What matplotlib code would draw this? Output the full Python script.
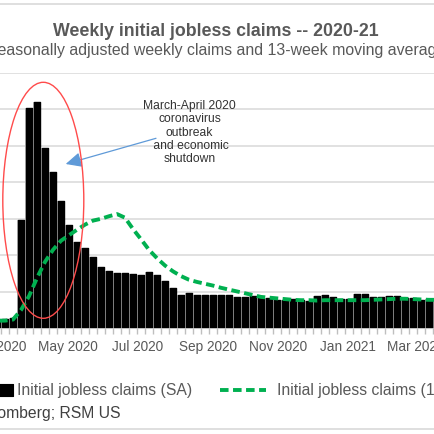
import numpy as np
import pandas as pd
import matplotlib
matplotlib.use('Agg')
import matplotlib.pyplot as plt
import matplotlib.dates as mdates
from matplotlib.patches import Ellipse, Rectangle
from matplotlib.lines import Line2D
from matplotlib.ticker import FixedLocator

plt.rcParams['font.family'] = ['Liberation Sans', 'DejaVu Sans']

# weekly initial jobless claims, millions (week ending Saturday)
weeks = pd.date_range('2020-02-29', '2021-03-20', freq='7D')
claims = [0.22, 0.25, 0.29, 2.97, 6.04, 6.21, 4.93, 4.27, 3.50, 2.83,
          2.36, 2.19, 1.95, 1.67, 1.58, 1.52, 1.52, 1.50, 1.45, 1.54,
          1.45, 1.30, 1.10, 0.92, 0.96, 0.92, 0.92, 0.92, 0.91, 0.90,
          0.87, 0.85, 0.89, 0.83, 0.82, 0.78, 0.78, 0.80, 0.78, 0.76,
          0.89, 0.91, 0.85, 0.80, 0.80, 0.94, 0.94, 0.87, 0.87, 0.89,
          0.89, 0.82, 0.82, 0.78, 0.80, 0.78]
# 13-week moving average, millions
claims_ma = [0.21, 0.21, 0.24, 0.50, 0.88, 1.38, 1.82, 2.15, 2.40, 2.55,
             2.70, 2.84, 2.95, 3.00, 3.07, 3.13, 3.03, 2.72, 2.44, 2.15,
             1.92, 1.72, 1.56, 1.43, 1.33, 1.27, 1.22, 1.17, 1.11, 1.06,
             1.01, 0.96, 0.91, 0.86, 0.84, 0.82, 0.80, 0.78, 0.77, 0.77,
             0.76, 0.77, 0.77, 0.77, 0.77, 0.77, 0.77, 0.78, 0.79, 0.80,
             0.81, 0.81, 0.80, 0.79, 0.78, 0.78]

title = 'Weekly initial jobless claims -- 2020-21'
subtitle = 'Seasonally adjusted weekly claims and 13-week moving average'
note = 'March-April 2020\ncoronavirus\noutbreak\n and economic\nshutdown'
legend_labels = ['Initial jobless claims (SA)',
                 'Initial jobless claims (13-week moving average)']
source = 'Source: Bloomberg; RSM US'

W = 435.0
GREEN = '#00b050'
GREY_TXT = '#595959'
DASH = (2.2, 1.15)


def fx(px):
    return px / W


def fy(py):
    return 1 - py / W


fig = plt.figure(figsize=(4.35, 4.35), dpi=100)

# plot area runs off the left edge, like the cropped original
ax = fig.add_axes([fx(-60), fy(329.3), 495 / W, 255.5 / W])

x = mdates.date2num(weeks)
d0 = mdates.date2num(pd.Timestamp('2020-03-07'))
ax.set_xlim(d0 - 65 * 7 / 8, d0 + 430 * 7 / 8)
ax.set_ylim(0, 7)

ax.bar(x, claims, width=7, color='#c2c2c2', lw=0, zorder=2)
ax.bar(x, claims, width=4.6, color='black', edgecolor='black', lw=1.0,
       joinstyle='round', zorder=3)
ax.plot(x, claims_ma, color=GREEN, lw=2.8, dashes=DASH,
        dash_capstyle='butt', zorder=4)

ax.set_yticks(np.arange(0, 8))
ax.yaxis.grid(True, color='#d9d9d9', lw=1.1)
ax.set_axisbelow(True)
ax.tick_params(axis='y', length=0, labelleft=False)
for s in ['left', 'right', 'top']:
    ax.spines[s].set_visible(False)
ax.spines['bottom'].set_color('#bfbfbf')

ax.xaxis.set_major_locator(mdates.MonthLocator(bymonth=[1, 3, 5, 7, 9, 11]))
ax.xaxis.set_major_formatter(mdates.DateFormatter('%b %Y'))
ax.xaxis.set_minor_locator(FixedLocator(x + 3.5))
ax.tick_params(axis='x', which='major', length=0, pad=7.5, labelsize=9.8,
               labelcolor=GREY_TXT)
ax.tick_params(axis='x', which='minor', length=4, width=1, color='#bfbfbf')

# headings
fig.text(fx(216), fy(31), title, ha='center', va='center', fontsize=12.8,
         fontweight='bold', color=GREY_TXT)
fig.text(fx(216), fy(50), subtitle, ha='center', va='center', fontsize=11.4,
         color=GREY_TXT)

# separator lines
for yy in [5, 430]:
    fig.add_artist(Line2D([0, 1], [fy(yy), fy(yy)], color='#d9d9d9', lw=1.2))

# annotation: ellipse, arrow and note
fig.add_artist(Ellipse((fx(43.3), fy(201.3)), 81 / W, 236 / W,
                       transform=fig.transFigure, fill=False,
                       edgecolor='#ff4b4b', lw=1.0, zorder=5))
ax.annotate('', xy=(65.7, W - 165), xycoords='figure pixels',
            xytext=(156, W - 139.3), textcoords='figure pixels',
            arrowprops=dict(arrowstyle='-|>,head_length=0.95,head_width=0.45',
                            color='#5f9ad8', lw=0.9, shrinkA=0, shrinkB=0))
fig.text(fx(189.5), fy(132.5), note, ha='center', va='center',
         multialignment='center', fontsize=8.7, linespacing=1.14,
         color='#333333')

# legend drawn by hand
fig.add_artist(Rectangle((fx(-1), fy(397)), 14 / W, 12 / W,
                         transform=fig.transFigure, facecolor='black',
                         edgecolor='black', lw=0.8, joinstyle='round'))
fig.text(fx(17), fy(391), legend_labels[0], ha='left', va='center',
         fontsize=11.3, color=GREY_TXT)
fig.add_artist(Line2D([fx(220), fx(266)], [fy(391), fy(391)], color=GREEN,
                      lw=2.8, dashes=DASH, dash_capstyle='butt'))
fig.text(fx(277), fy(391), legend_labels[1], ha='left', va='center',
         fontsize=11.3, color=GREY_TXT)
fig.text(fx(121), fy(414), source, ha='right', va='center', fontsize=11.3,
         color='#404040')

fig.savefig('out.png', dpi=100)
